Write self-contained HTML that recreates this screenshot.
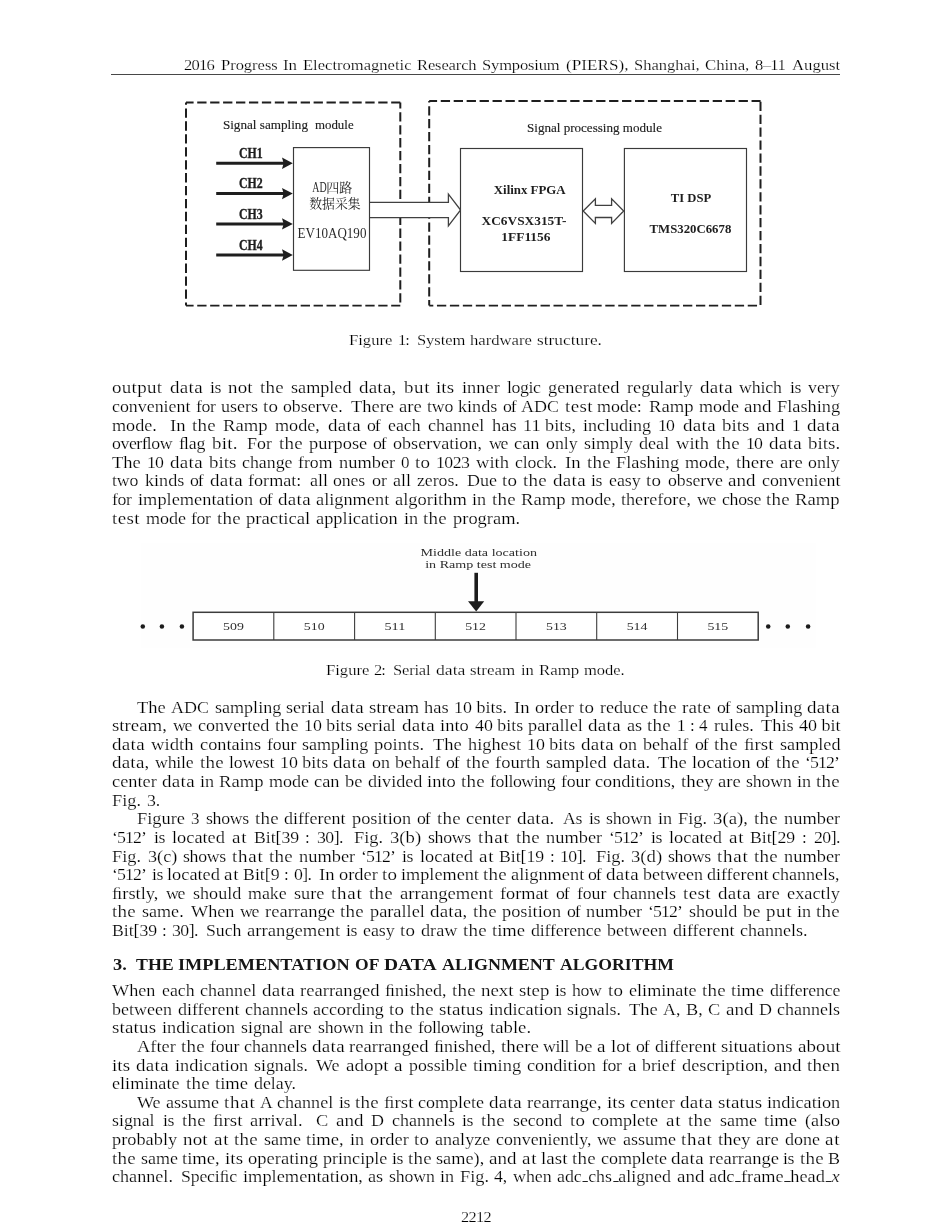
<!DOCTYPE html>
<html><head><meta charset="utf-8"><title>PIERS 2212</title>
<style>
html,body{margin:0;padding:0;background:#fff;}
body{width:952px;height:1232px;position:relative;overflow:hidden;font-family:"Liberation Serif",serif;color:#000;}
#pg{position:absolute;left:0;top:0;width:952px;height:1232px;background:#fff;will-change:transform;filter:grayscale(1);}
.l{position:absolute;left:0;width:952px;height:20px;line-height:20px;font-size:16.8px;white-space:pre;-webkit-text-stroke:0.2px #fff;}
.l span{position:absolute;top:0;transform-origin:0 0;}
.b{-webkit-text-stroke:0;color:#161616;}
.l u{display:inline-block;width:.3em;margin-left:.06em;height:0;border-bottom:1px solid #222;vertical-align:baseline;text-decoration:none;}
svg{position:absolute;left:0;top:0;}
svg text{font-family:"Liberation Serif",serif;}
</style></head><body><div id="pg">
<svg width="952" height="1232" viewBox="0 0 952 1232">
<path d="M186.0,102.6 L400.3,102.6" fill="none" stroke="#1e1e1e" stroke-width="2.0" stroke-dasharray="9.3 3.63" stroke-dashoffset="1.7"/>
<path d="M186.0,305.6 L400.3,305.6" fill="none" stroke="#1e1e1e" stroke-width="1.7" stroke-dasharray="9.3 3.63" stroke-dashoffset="1.7"/>
<path d="M186.0,102.6 L186.0,305.6" fill="none" stroke="#1e1e1e" stroke-width="2.0" stroke-dasharray="9.3 3.63" stroke-dashoffset="7.1"/>
<path d="M400.3,102.6 L400.3,305.6" fill="none" stroke="#1e1e1e" stroke-width="2.0" stroke-dasharray="9.3 3.63" stroke-dashoffset="3.3"/>
<path d="M429.2,100.9 L760.6,100.9" fill="none" stroke="#1e1e1e" stroke-width="2.0" stroke-dasharray="9.3 3.65" stroke-dashoffset="1.4"/>
<path d="M429.2,305.6 L757.4,305.6" fill="none" stroke="#1e1e1e" stroke-width="1.8" stroke-dasharray="9.3 3.65" stroke-dashoffset="5.2"/>
<path d="M429.2,100.9 L429.2,305.6" fill="none" stroke="#1e1e1e" stroke-width="2.0" stroke-dasharray="9.3 3.63" stroke-dashoffset="7.7"/>
<path d="M760.5,100.9 L760.5,306.4" fill="none" stroke="#1e1e1e" stroke-width="2.0" stroke-dasharray="9.3 3.63" stroke-dashoffset="-0.8"/>
<path d="M369.5,202.3 L448.4,202.3 L448.4,194.2 L460.6,210 L448.4,225.8 L448.4,217.6 L369.5,217.6" fill="#fff" stroke="#404040" stroke-width="1.3"/>
<rect x="293.5" y="147.6" width="76.0" height="122.7" fill="#fff" stroke="#3a3a3a" stroke-width="1.15"/>
<rect x="460.5" y="148.5" width="122.0" height="123.0" fill="#fff" stroke="#3a3a3a" stroke-width="1.15"/>
<rect x="624.4" y="148.5" width="122.1" height="123.0" fill="#fff" stroke="#3a3a3a" stroke-width="1.15"/>
<path d="M583.2,211 L595.4,198.9 L595.4,205.4 L611.6,205.4 L611.6,198.9 L623.7,211 L611.6,223.5 L611.6,217.5 L595.4,217.5 L595.4,223.5 Z" fill="#fff" stroke="#404040" stroke-width="1.3"/>
<path d="M216.2,163.2 L284,163.2" stroke="#1e1e1e" stroke-width="3.0" fill="none"/>
<path d="M292.8,163.2 L282.0,157.5 L283.6,163.2 L282.0,168.89999999999998 Z" fill="#1e1e1e"/>
<path d="M216.2,193.6 L284,193.6" stroke="#1e1e1e" stroke-width="3.0" fill="none"/>
<path d="M292.8,193.6 L282.0,187.9 L283.6,193.6 L282.0,199.29999999999998 Z" fill="#1e1e1e"/>
<path d="M216.2,223.9 L284,223.9" stroke="#1e1e1e" stroke-width="3.0" fill="none"/>
<path d="M292.8,223.9 L282.0,218.20000000000002 L283.6,223.9 L282.0,229.6 Z" fill="#1e1e1e"/>
<path d="M216.2,255.0 L284,255.0" stroke="#1e1e1e" stroke-width="3.0" fill="none"/>
<path d="M292.8,255.0 L282.0,249.3 L283.6,255.0 L282.0,260.7 Z" fill="#1e1e1e"/>
<text x="239" y="157.7" font-size="13.9" font-weight="bold" fill="#1e1e1e" stroke="#1e1e1e" stroke-width="0.35" textLength="23.7" lengthAdjust="spacingAndGlyphs">CH1</text>
<text x="239" y="188.3" font-size="13.9" font-weight="bold" fill="#1e1e1e" stroke="#1e1e1e" stroke-width="0.35" textLength="23.7" lengthAdjust="spacingAndGlyphs">CH2</text>
<text x="239" y="218.6" font-size="13.9" font-weight="bold" fill="#1e1e1e" stroke="#1e1e1e" stroke-width="0.35" textLength="23.7" lengthAdjust="spacingAndGlyphs">CH3</text>
<text x="239" y="249.9" font-size="13.9" font-weight="bold" fill="#1e1e1e" stroke="#1e1e1e" stroke-width="0.35" textLength="23.7" lengthAdjust="spacingAndGlyphs">CH4</text>
<text x="222.9" y="129.2" font-size="13.4" fill="#222" stroke="#222" stroke-width="0.15" textLength="85.1" lengthAdjust="spacingAndGlyphs">Signal sampling</text>
<text x="315.0" y="129.2" font-size="13.4" fill="#222" stroke="#222" stroke-width="0.15" textLength="38.6" lengthAdjust="spacingAndGlyphs">module</text>
<text x="527" y="131.5" font-size="13.4" fill="#222" stroke="#222" stroke-width="0.15" textLength="135" lengthAdjust="spacingAndGlyphs">Signal processing module</text>
<text x="312.3" y="191.6" font-size="14.6" fill="#2a2a2a" textLength="14.4" lengthAdjust="spacingAndGlyphs">AD</text>
<text x="326.3" y="191.6" font-size="13" fill="#262626" textLength="26" lengthAdjust="spacingAndGlyphs" style="font-family:'Liberation Serif','Noto Serif CJK SC',serif;">四路</text>
<text x="309.2" y="207.6" font-size="13" fill="#262626" textLength="51.4" lengthAdjust="spacingAndGlyphs" style="font-family:'Liberation Serif','Noto Serif CJK SC',serif;">数据采集</text>
<text x="297.6" y="238.3" font-size="13.7" fill="#2a2a2a" textLength="68.8" lengthAdjust="spacingAndGlyphs">EV10AQ190</text>
<text x="493.8" y="194.4" font-size="13.5" font-weight="bold" fill="#1e1e1e" textLength="71.8" lengthAdjust="spacingAndGlyphs">Xilinx FPGA</text>
<text x="481.6" y="225.4" font-size="13.5" font-weight="bold" fill="#1e1e1e" textLength="84.8" lengthAdjust="spacingAndGlyphs">XC6VSX315T-</text>
<text x="501.3" y="241.0" font-size="13.5" font-weight="bold" fill="#1e1e1e" textLength="49.2" lengthAdjust="spacingAndGlyphs">1FF1156</text>
<text x="670.8" y="201.7" font-size="13.4" font-weight="bold" fill="#1e1e1e" textLength="40.4" lengthAdjust="spacingAndGlyphs">TI DSP</text>
<text x="649.6" y="233.1" font-size="13.4" font-weight="bold" fill="#1e1e1e" textLength="81.7" lengthAdjust="spacingAndGlyphs">TMS320C6678</text>
</svg>
<svg width="952" height="1232" viewBox="0 0 952 1232">
<rect x="141" y="543" width="675" height="105" fill="#fefefe"/>
<text x="420.5" y="556" font-size="9.6" fill="#2e2e2e" textLength="116.5" lengthAdjust="spacingAndGlyphs">Middle data location</text>
<text x="425.2" y="567.7" font-size="9.6" fill="#2e2e2e" textLength="105.9" lengthAdjust="spacingAndGlyphs">in Ramp test mode</text>
<path d="M476.2,572.8 L476.2,603" stroke="#1c1c1c" stroke-width="3.6" fill="none"/>
<path d="M468,601.3 L484.2,601.3 L476.2,611.6 Z" fill="#1c1c1c"/>
<rect x="193.1" y="612.3" width="565.1" height="27.7" fill="#fff" stroke="#3c3c3c" stroke-width="1.5"/>
<path d="M273.8,612.3 L273.8,640.0" stroke="#3c3c3c" stroke-width="1.1"/>
<path d="M354.6,612.3 L354.6,640.0" stroke="#3c3c3c" stroke-width="1.1"/>
<path d="M435.3,612.3 L435.3,640.0" stroke="#3c3c3c" stroke-width="1.1"/>
<path d="M516.0,612.3 L516.0,640.0" stroke="#3c3c3c" stroke-width="1.1"/>
<path d="M596.7,612.3 L596.7,640.0" stroke="#3c3c3c" stroke-width="1.1"/>
<path d="M677.5,612.3 L677.5,640.0" stroke="#3c3c3c" stroke-width="1.1"/>
<text x="223.1" y="629.6" font-size="10.2" fill="#2e2e2e" textLength="20.8" lengthAdjust="spacingAndGlyphs">509</text>
<text x="303.8" y="629.6" font-size="10.2" fill="#2e2e2e" textLength="20.8" lengthAdjust="spacingAndGlyphs">510</text>
<text x="384.5" y="629.6" font-size="10.2" fill="#2e2e2e" textLength="20.8" lengthAdjust="spacingAndGlyphs">511</text>
<text x="465.2" y="629.6" font-size="10.2" fill="#2e2e2e" textLength="20.8" lengthAdjust="spacingAndGlyphs">512</text>
<text x="546.0" y="629.6" font-size="10.2" fill="#2e2e2e" textLength="20.8" lengthAdjust="spacingAndGlyphs">513</text>
<text x="626.7" y="629.6" font-size="10.2" fill="#2e2e2e" textLength="20.8" lengthAdjust="spacingAndGlyphs">514</text>
<text x="707.4" y="629.6" font-size="10.2" fill="#2e2e2e" textLength="20.8" lengthAdjust="spacingAndGlyphs">515</text>
<circle cx="142.8" cy="626.4" r="2.25" fill="#1c1c1c"/>
<circle cx="161.9" cy="626.4" r="2.25" fill="#1c1c1c"/>
<circle cx="181.9" cy="626.4" r="2.25" fill="#1c1c1c"/>
<circle cx="768.2" cy="626.4" r="2.25" fill="#1c1c1c"/>
<circle cx="787.8" cy="626.4" r="2.25" fill="#1c1c1c"/>
<circle cx="808.1" cy="626.4" r="2.25" fill="#1c1c1c"/>
</svg>
<div class="l" style="top:55.03px;font-size:15.6px;"><span style="left:184.2px;letter-spacing:-0.74px;transform:scaleX(1.060)">2016</span><span style="left:220.6px;letter-spacing:-0.03px;transform:scaleX(1.060)">Progress</span><span style="left:283.0px;transform:scaleX(1.082)">In</span><span style="left:302.7px;transform:scaleX(1.062)">Electromagnetic</span><span style="left:416.9px;letter-spacing:-0.13px;transform:scaleX(1.060)">Research</span><span style="left:482.2px;letter-spacing:-0.15px;transform:scaleX(1.060)">Symposium</span><span style="left:565.5px;transform:scaleX(1.101)">(PIERS),</span><span style="left:633.8px;transform:scaleX(1.060)">Shanghai,</span><span style="left:705.2px;transform:scaleX(1.077)">China,</span><span style="left:755.4px;letter-spacing:-0.55px;transform:scaleX(1.060)">8–11</span><span style="left:791.7px;transform:scaleX(1.071)">August</span></div>
<div style="position:absolute;left:111px;top:74px;width:729px;height:1px;background:#484848"></div>
<div class="l" style="top:330.44px;font-size:15.6px;"><span style="left:349.3px;transform:scaleX(1.064)">Figure</span><span style="left:397.7px;letter-spacing:-0.88px;transform:scaleX(1.060)">1:</span><span style="left:416.5px;letter-spacing:-0.08px;transform:scaleX(1.060)">System</span><span style="left:469.9px;transform:scaleX(1.067)">hardware</span><span style="left:536.9px;transform:scaleX(1.111)">structure.</span></div>
<div class="l" style="top:660.24px;font-size:15.6px;"><span style="left:325.8px;transform:scaleX(1.064)">Figure</span><span style="left:374.2px;letter-spacing:-0.88px;transform:scaleX(1.060)">2:</span><span style="left:393.0px;letter-spacing:-0.19px;transform:scaleX(1.060)">Serial</span><span style="left:435.7px;letter-spacing:0.02px;transform:scaleX(1.130)">data</span><span style="left:470.2px;transform:scaleX(1.090)">stream</span><span style="left:520.7px;letter-spacing:-0.07px;transform:scaleX(1.060)">in</span><span style="left:538.6px;transform:scaleX(1.082)">Ramp</span><span style="left:584.0px;letter-spacing:-0.08px;transform:scaleX(1.060)">mode.</span></div>
<div class="l" style="top:378.33px;"><span style="left:112.4px;letter-spacing:0.28px;transform:scaleX(1.130)">output</span><span style="left:169.7px;letter-spacing:0.29px;transform:scaleX(1.130)">data</span><span style="left:209.5px;letter-spacing:-0.42px;transform:scaleX(1.060)">is</span><span style="left:228.2px;letter-spacing:0.14px;transform:scaleX(1.130)">not</span><span style="left:260.0px;letter-spacing:0.19px;transform:scaleX(1.130)">the</span><span style="left:290.9px;transform:scaleX(1.082)">sampled</span><span style="left:358.7px;letter-spacing:0.21px;transform:scaleX(1.130)">data,</span><span style="left:403.6px;letter-spacing:0.56px;transform:scaleX(1.130)">but</span><span style="left:436.4px;letter-spacing:0.05px;transform:scaleX(1.130)">its</span><span style="left:461.7px;transform:scaleX(1.097)">inner</span><span style="left:506.7px;letter-spacing:-0.37px;transform:scaleX(1.060)">logic</span><span style="left:548.0px;transform:scaleX(1.094)">generated</span><span style="left:626.6px;transform:scaleX(1.085)">regularly</span><span style="left:699.6px;letter-spacing:0.29px;transform:scaleX(1.130)">data</span><span style="left:739.4px;letter-spacing:-0.12px;transform:scaleX(1.060)">which</span><span style="left:789.6px;letter-spacing:-0.42px;transform:scaleX(1.060)">is</span><span style="left:808.3px;transform:scaleX(1.062)">very</span></div>
<div class="l" style="top:396.95px;"><span style="left:112.4px;transform:scaleX(1.065)">convenient</span><span style="left:195.9px;letter-spacing:-0.41px;transform:scaleX(1.060)">for</span><span style="left:221.0px;transform:scaleX(1.074)">users</span><span style="left:263.2px;letter-spacing:0.31px;transform:scaleX(1.130)">to</span><span style="left:283.4px;letter-spacing:-0.02px;transform:scaleX(1.060)">observe.</span><span style="left:350.5px;transform:scaleX(1.099)">There</span><span style="left:398.6px;transform:scaleX(1.108)">are</span><span style="left:426.5px;letter-spacing:-0.11px;transform:scaleX(1.060)">two</span><span style="left:458.1px;transform:scaleX(1.080)">kinds</span><span style="left:502.5px;letter-spacing:-1.07px;transform:scaleX(1.060)">of</span><span style="left:521.3px;transform:scaleX(1.073)">ADC</span><span style="left:564.5px;letter-spacing:0.34px;transform:scaleX(1.130)">test</span><span style="left:597.1px;transform:scaleX(1.069)">mode:</span><span style="left:649.3px;transform:scaleX(1.113)">Ramp</span><span style="left:699.0px;transform:scaleX(1.076)">mode</span><span style="left:744.3px;transform:scaleX(1.130)">and</span><span style="left:776.9px;transform:scaleX(1.092)">Flashing</span></div>
<div class="l" style="top:415.57px;"><span style="left:112.4px;transform:scaleX(1.081)">mode.</span><span style="left:169.5px;transform:scaleX(1.114)">In</span><span style="left:192.3px;letter-spacing:0.19px;transform:scaleX(1.130)">the</span><span style="left:223.2px;transform:scaleX(1.113)">Ramp</span><span style="left:275.0px;transform:scaleX(1.081)">mode,</span><span style="left:327.5px;letter-spacing:0.29px;transform:scaleX(1.130)">data</span><span style="left:367.3px;letter-spacing:-1.07px;transform:scaleX(1.060)">of</span><span style="left:388.3px;transform:scaleX(1.060)">each</span><span style="left:428.1px;transform:scaleX(1.077)">channel</span><span style="left:491.5px;transform:scaleX(1.102)">has</span><span style="left:523.4px;transform:scaleX(1.085)">11 bits,</span><span style="left:583.1px;transform:scaleX(1.073)">including</span><span style="left:658.3px;letter-spacing:-0.74px;transform:scaleX(1.060)">10</span><span style="left:682.5px;letter-spacing:0.29px;transform:scaleX(1.130)">data</span><span style="left:722.3px;letter-spacing:0.02px;transform:scaleX(1.130)">bits</span><span style="left:757.1px;transform:scaleX(1.130)">and</span><span style="left:791.7px;transform:scaleX(1.013)">1</span><span style="left:807.4px;letter-spacing:0.29px;transform:scaleX(1.130)">data</span></div>
<div class="l" style="top:434.19px;"><span style="left:112.4px;letter-spacing:-0.43px;transform:scaleX(1.060)">overﬂow</span><span style="left:179.3px;letter-spacing:-0.11px;transform:scaleX(1.060)">ﬂag</span><span style="left:212.1px;letter-spacing:0.21px;transform:scaleX(1.130)">bit.</span><span style="left:247.3px;transform:scaleX(1.066)">For</span><span style="left:278.5px;letter-spacing:0.19px;transform:scaleX(1.130)">the</span><span style="left:308.5px;transform:scaleX(1.096)">purpose</span><span style="left:373.1px;letter-spacing:-1.07px;transform:scaleX(1.060)">of</span><span style="left:393.2px;transform:scaleX(1.078)">observation,</span><span style="left:488.7px;letter-spacing:-1.31px;transform:scaleX(1.060)">we</span><span style="left:514.4px;transform:scaleX(1.095)">can</span><span style="left:546.3px;transform:scaleX(1.060)">only</span><span style="left:584.3px;transform:scaleX(1.066)">simply</span><span style="left:639.4px;transform:scaleX(1.081)">deal</span><span style="left:676.0px;transform:scaleX(1.108)">with</span><span style="left:715.5px;letter-spacing:0.19px;transform:scaleX(1.130)">the</span><span style="left:745.5px;letter-spacing:-0.74px;transform:scaleX(1.060)">10</span><span style="left:768.8px;letter-spacing:0.29px;transform:scaleX(1.130)">data</span><span style="left:807.8px;letter-spacing:0.01px;transform:scaleX(1.130)">bits.</span></div>
<div class="l" style="top:452.81px;"><span style="left:112.4px;transform:scaleX(1.104)">The</span><span style="left:147.1px;letter-spacing:-0.74px;transform:scaleX(1.060)">10</span><span style="left:170.0px;letter-spacing:0.29px;transform:scaleX(1.130)">data</span><span style="left:208.5px;letter-spacing:0.02px;transform:scaleX(1.130)">bits</span><span style="left:241.8px;transform:scaleX(1.063)">change</span><span style="left:298.2px;letter-spacing:-0.02px;transform:scaleX(1.060)">from</span><span style="left:338.6px;transform:scaleX(1.097)">number</span><span style="left:400.8px;transform:scaleX(1.013)">0</span><span style="left:415.2px;letter-spacing:0.31px;transform:scaleX(1.130)">to</span><span style="left:436.2px;letter-spacing:-0.50px;transform:scaleX(1.060)">1023</span><span style="left:476.1px;transform:scaleX(1.108)">with</span><span style="left:515.0px;letter-spacing:-0.18px;transform:scaleX(1.060)">clock.</span><span style="left:565.2px;transform:scaleX(1.114)">In</span><span style="left:586.7px;letter-spacing:0.19px;transform:scaleX(1.130)">the</span><span style="left:616.2px;transform:scaleX(1.092)">Flashing</span><span style="left:685.2px;transform:scaleX(1.081)">mode,</span><span style="left:736.0px;transform:scaleX(1.128)">there</span><span style="left:779.8px;transform:scaleX(1.108)">are</span><span style="left:808.4px;transform:scaleX(1.060)">only</span></div>
<div class="l" style="top:471.43px;"><span style="left:112.4px;letter-spacing:-0.11px;transform:scaleX(1.060)">two</span><span style="left:144.8px;transform:scaleX(1.080)">kinds</span><span style="left:190.0px;letter-spacing:-1.07px;transform:scaleX(1.060)">of</span><span style="left:209.6px;letter-spacing:0.29px;transform:scaleX(1.130)">data</span><span style="left:248.1px;transform:scaleX(1.081)">format:</span><span style="left:309.5px;transform:scaleX(1.069)">all</span><span style="left:333.4px;letter-spacing:-0.13px;transform:scaleX(1.060)">ones</span><span style="left:371.5px;transform:scaleX(1.084)">or</span><span style="left:392.6px;transform:scaleX(1.069)">all</span><span style="left:416.5px;letter-spacing:-0.05px;transform:scaleX(1.060)">zeros.</span><span style="left:466.5px;transform:scaleX(1.072)">Due</span><span style="left:502.4px;letter-spacing:0.31px;transform:scaleX(1.130)">to</span><span style="left:523.4px;letter-spacing:0.19px;transform:scaleX(1.130)">the</span><span style="left:552.9px;letter-spacing:0.29px;transform:scaleX(1.130)">data</span><span style="left:591.4px;letter-spacing:-0.42px;transform:scaleX(1.060)">is</span><span style="left:608.8px;transform:scaleX(1.064)">easy</span><span style="left:646.4px;letter-spacing:0.31px;transform:scaleX(1.130)">to</span><span style="left:667.5px;letter-spacing:-0.06px;transform:scaleX(1.060)">observe</span><span style="left:728.3px;transform:scaleX(1.130)">and</span><span style="left:761.6px;transform:scaleX(1.065)">convenient</span></div>
<div class="l" style="top:490.05px;"><span style="left:112.4px;letter-spacing:-0.41px;transform:scaleX(1.060)">for</span><span style="left:137.8px;transform:scaleX(1.094)">implementation</span><span style="left:258.5px;letter-spacing:-1.07px;transform:scaleX(1.060)">of</span><span style="left:277.7px;letter-spacing:0.29px;transform:scaleX(1.130)">data</span><span style="left:315.8px;transform:scaleX(1.091)">alignment</span><span style="left:394.5px;transform:scaleX(1.101)">algorithm</span><span style="left:471.8px;transform:scaleX(1.085)">in</span><span style="left:491.5px;letter-spacing:0.19px;transform:scaleX(1.130)">the</span><span style="left:520.6px;transform:scaleX(1.113)">Ramp</span><span style="left:570.7px;transform:scaleX(1.081)">mode,</span><span style="left:621.1px;transform:scaleX(1.081)">therefore,</span><span style="left:696.6px;letter-spacing:-1.31px;transform:scaleX(1.060)">we</span><span style="left:721.5px;letter-spacing:-0.29px;transform:scaleX(1.060)">chose</span><span style="left:766.3px;letter-spacing:0.19px;transform:scaleX(1.130)">the</span><span style="left:795.4px;transform:scaleX(1.113)">Ramp</span></div>
<div class="l" style="top:508.67px;"><span style="left:112.4px;letter-spacing:0.34px;transform:scaleX(1.130)">test</span><span style="left:145.6px;transform:scaleX(1.076)">mode</span><span style="left:191.4px;letter-spacing:-0.41px;transform:scaleX(1.060)">for</span><span style="left:216.9px;letter-spacing:0.19px;transform:scaleX(1.130)">the</span><span style="left:246.2px;transform:scaleX(1.113)">practical</span><span style="left:316.1px;transform:scaleX(1.096)">application</span><span style="left:403.5px;transform:scaleX(1.085)">in</span><span style="left:423.3px;letter-spacing:0.19px;transform:scaleX(1.130)">the</span><span style="left:452.6px;transform:scaleX(1.100)">program.</span></div>
<div class="l" style="top:697.63px;"><span style="left:137.0px;transform:scaleX(1.104)">The</span><span style="left:171.2px;transform:scaleX(1.073)">ADC</span><span style="left:214.7px;transform:scaleX(1.076)">sampling</span><span style="left:286.3px;transform:scaleX(1.069)">serial</span><span style="left:330.6px;letter-spacing:0.29px;transform:scaleX(1.130)">data</span><span style="left:368.6px;transform:scaleX(1.122)">stream</span><span style="left:424.3px;transform:scaleX(1.102)">has</span><span style="left:454.3px;transform:scaleX(1.071)">10 bits.</span><span style="left:513.9px;transform:scaleX(1.114)">In</span><span style="left:534.9px;transform:scaleX(1.096)">order</span><span style="left:579.1px;letter-spacing:0.31px;transform:scaleX(1.130)">to</span><span style="left:599.7px;transform:scaleX(1.078)">reduce</span><span style="left:653.3px;letter-spacing:0.19px;transform:scaleX(1.130)">the</span><span style="left:682.4px;letter-spacing:0.13px;transform:scaleX(1.130)">rate</span><span style="left:716.7px;letter-spacing:-1.07px;transform:scaleX(1.060)">of</span><span style="left:735.8px;transform:scaleX(1.076)">sampling</span><span style="left:807.4px;letter-spacing:0.29px;transform:scaleX(1.130)">data</span></div>
<div class="l" style="top:716.25px;"><span style="left:112.4px;transform:scaleX(1.122)">stream,</span><span style="left:173.0px;letter-spacing:-1.31px;transform:scaleX(1.060)">we</span><span style="left:198.1px;transform:scaleX(1.078)">converted</span><span style="left:275.1px;letter-spacing:0.19px;transform:scaleX(1.130)">the</span><span style="left:304.4px;transform:scaleX(1.066)">10 bits</span><span style="left:357.4px;transform:scaleX(1.069)">serial</span><span style="left:401.9px;letter-spacing:0.29px;transform:scaleX(1.130)">data</span><span style="left:440.2px;transform:scaleX(1.103)">into</span><span style="left:474.7px;transform:scaleX(1.066)">40 bits</span><span style="left:527.7px;transform:scaleX(1.090)">parallel</span><span style="left:588.2px;letter-spacing:0.29px;transform:scaleX(1.130)">data</span><span style="left:626.5px;transform:scaleX(1.087)">as</span><span style="left:647.4px;letter-spacing:0.19px;transform:scaleX(1.130)">the</span><span style="left:676.7px;transform:scaleX(1.013)">1</span><span style="left:689.9px;transform:scaleX(1.011)">:</span><span style="left:699.4px;transform:scaleX(1.013)">4</span><span style="left:713.6px;transform:scaleX(1.081)">rules.</span><span style="left:761.0px;transform:scaleX(1.095)">This</span><span style="left:799.4px;transform:scaleX(1.073)">40 bit</span></div>
<div class="l" style="top:734.87px;"><span style="left:112.4px;letter-spacing:0.29px;transform:scaleX(1.130)">data</span><span style="left:151.0px;transform:scaleX(1.112)">width</span><span style="left:199.6px;transform:scaleX(1.091)">contains</span><span style="left:266.7px;letter-spacing:-0.10px;transform:scaleX(1.060)">four</span><span style="left:302.1px;transform:scaleX(1.076)">sampling</span><span style="left:374.3px;transform:scaleX(1.109)">points.</span><span style="left:433.2px;transform:scaleX(1.104)">The</span><span style="left:468.1px;transform:scaleX(1.093)">highest</span><span style="left:527.1px;transform:scaleX(1.066)">10 bits</span><span style="left:580.5px;letter-spacing:0.29px;transform:scaleX(1.130)">data</span><span style="left:619.2px;transform:scaleX(1.069)">on</span><span style="left:643.2px;transform:scaleX(1.081)">behalf</span><span style="left:694.6px;letter-spacing:-1.07px;transform:scaleX(1.060)">of</span><span style="left:714.3px;letter-spacing:0.19px;transform:scaleX(1.130)">the</span><span style="left:744.0px;transform:scaleX(1.126)">ﬁrst</span><span style="left:779.5px;transform:scaleX(1.082)">sampled</span></div>
<div class="l" style="top:753.49px;"><span style="left:112.4px;letter-spacing:0.21px;transform:scaleX(1.130)">data,</span><span style="left:155.4px;letter-spacing:-0.19px;transform:scaleX(1.060)">while</span><span style="left:199.9px;letter-spacing:0.19px;transform:scaleX(1.130)">the</span><span style="left:229.2px;letter-spacing:-0.19px;transform:scaleX(1.060)">lowest</span><span style="left:280.4px;transform:scaleX(1.066)">10 bits</span><span style="left:333.4px;letter-spacing:0.29px;transform:scaleX(1.130)">data</span><span style="left:371.7px;transform:scaleX(1.069)">on</span><span style="left:395.4px;transform:scaleX(1.081)">behalf</span><span style="left:446.4px;letter-spacing:-1.07px;transform:scaleX(1.060)">of</span><span style="left:465.8px;letter-spacing:0.19px;transform:scaleX(1.130)">the</span><span style="left:495.1px;transform:scaleX(1.106)">fourth</span><span style="left:546.2px;transform:scaleX(1.082)">sampled</span><span style="left:612.5px;letter-spacing:0.21px;transform:scaleX(1.130)">data.</span><span style="left:657.5px;transform:scaleX(1.104)">The</span><span style="left:692.0px;transform:scaleX(1.083)">location</span><span style="left:756.3px;letter-spacing:-1.07px;transform:scaleX(1.060)">of</span><span style="left:775.7px;letter-spacing:0.19px;transform:scaleX(1.130)">the</span><span style="left:805.1px;letter-spacing:-0.85px;transform:scaleX(1.060)">‘512’</span></div>
<div class="l" style="top:772.11px;"><span style="left:112.4px;transform:scaleX(1.095)">center</span><span style="left:162.4px;letter-spacing:0.29px;transform:scaleX(1.130)">data</span><span style="left:200.1px;transform:scaleX(1.085)">in</span><span style="left:219.4px;transform:scaleX(1.113)">Ramp</span><span style="left:269.2px;transform:scaleX(1.076)">mode</span><span style="left:314.4px;transform:scaleX(1.095)">can</span><span style="left:345.1px;transform:scaleX(1.103)">be</span><span style="left:367.6px;transform:scaleX(1.079)">divided</span><span style="left:427.1px;transform:scaleX(1.103)">into</span><span style="left:461.0px;letter-spacing:0.19px;transform:scaleX(1.130)">the</span><span style="left:489.7px;letter-spacing:-0.42px;transform:scaleX(1.060)">following</span><span style="left:560.5px;letter-spacing:-0.10px;transform:scaleX(1.060)">four</span><span style="left:594.9px;transform:scaleX(1.084)">conditions,</span><span style="left:680.5px;transform:scaleX(1.127)">they</span><span style="left:718.2px;transform:scaleX(1.108)">are</span><span style="left:746.1px;letter-spacing:-0.13px;transform:scaleX(1.060)">shown</span><span style="left:797.1px;transform:scaleX(1.085)">in</span><span style="left:816.4px;letter-spacing:0.19px;transform:scaleX(1.130)">the</span></div>
<div class="l" style="top:790.73px;"><span style="left:112.4px;transform:scaleX(1.092)">Fig.</span><span style="left:147.1px;letter-spacing:-0.12px;transform:scaleX(1.060)">3.</span></div>
<div class="l" style="top:809.33px;"><span style="left:137.0px;transform:scaleX(1.095)">Figure</span><span style="left:191.0px;transform:scaleX(1.013)">3</span><span style="left:205.5px;letter-spacing:-0.31px;transform:scaleX(1.060)">shows</span><span style="left:254.7px;letter-spacing:0.19px;transform:scaleX(1.130)">the</span><span style="left:284.3px;transform:scaleX(1.069)">different</span><span style="left:351.7px;transform:scaleX(1.093)">position</span><span style="left:416.9px;letter-spacing:-1.07px;transform:scaleX(1.060)">of</span><span style="left:436.6px;letter-spacing:0.19px;transform:scaleX(1.130)">the</span><span style="left:466.2px;transform:scaleX(1.095)">center</span><span style="left:517.1px;letter-spacing:0.21px;transform:scaleX(1.130)">data.</span><span style="left:563.0px;letter-spacing:-0.30px;transform:scaleX(1.060)">As</span><span style="left:588.5px;letter-spacing:-0.42px;transform:scaleX(1.060)">is</span><span style="left:605.9px;letter-spacing:-0.13px;transform:scaleX(1.060)">shown</span><span style="left:657.9px;transform:scaleX(1.085)">in</span><span style="left:678.0px;transform:scaleX(1.092)">Fig.</span><span style="left:713.1px;transform:scaleX(1.119)">3(a),</span><span style="left:754.1px;letter-spacing:0.19px;transform:scaleX(1.130)">the</span><span style="left:783.8px;transform:scaleX(1.097)">number</span></div>
<div class="l" style="top:827.95px;"><span style="left:112.4px;letter-spacing:-0.85px;transform:scaleX(1.060)">‘512’</span><span style="left:154.2px;letter-spacing:-0.42px;transform:scaleX(1.060)">is</span><span style="left:172.4px;transform:scaleX(1.092)">located</span><span style="left:232.2px;letter-spacing:0.83px;transform:scaleX(1.130)">at</span><span style="left:253.6px;letter-spacing:-0.07px;transform:scaleX(1.060)">Bit[39</span><span style="left:305.4px;transform:scaleX(1.011)">:</span><span style="left:316.8px;letter-spacing:-0.54px;transform:scaleX(1.060)">30].</span><span style="left:354.3px;transform:scaleX(1.092)">Fig.</span><span style="left:390.1px;transform:scaleX(1.114)">3(b)</span><span style="left:428.1px;letter-spacing:-0.31px;transform:scaleX(1.060)">shows</span><span style="left:478.1px;letter-spacing:0.66px;transform:scaleX(1.130)">that</span><span style="left:515.7px;letter-spacing:0.19px;transform:scaleX(1.130)">the</span><span style="left:546.1px;transform:scaleX(1.097)">number</span><span style="left:609.2px;letter-spacing:-0.85px;transform:scaleX(1.060)">‘512’</span><span style="left:651.0px;letter-spacing:-0.42px;transform:scaleX(1.060)">is</span><span style="left:669.2px;transform:scaleX(1.092)">located</span><span style="left:728.9px;letter-spacing:0.83px;transform:scaleX(1.130)">at</span><span style="left:750.4px;letter-spacing:-0.07px;transform:scaleX(1.060)">Bit[29</span><span style="left:802.2px;transform:scaleX(1.011)">:</span><span style="left:813.6px;letter-spacing:-0.54px;transform:scaleX(1.060)">20].</span></div>
<div class="l" style="top:846.57px;"><span style="left:112.4px;transform:scaleX(1.092)">Fig.</span><span style="left:147.6px;transform:scaleX(1.084)">3(c)</span><span style="left:182.9px;letter-spacing:-0.31px;transform:scaleX(1.060)">shows</span><span style="left:232.2px;letter-spacing:0.66px;transform:scaleX(1.130)">that</span><span style="left:269.0px;letter-spacing:0.19px;transform:scaleX(1.130)">the</span><span style="left:298.7px;transform:scaleX(1.097)">number</span><span style="left:361.1px;letter-spacing:-0.85px;transform:scaleX(1.060)">‘512’</span><span style="left:402.2px;letter-spacing:-0.42px;transform:scaleX(1.060)">is</span><span style="left:419.7px;transform:scaleX(1.092)">located</span><span style="left:478.7px;letter-spacing:0.83px;transform:scaleX(1.130)">at</span><span style="left:499.4px;letter-spacing:-0.07px;transform:scaleX(1.060)">Bit[19</span><span style="left:550.0px;transform:scaleX(1.011)">:</span><span style="left:560.2px;letter-spacing:-0.54px;transform:scaleX(1.060)">10].</span><span style="left:595.5px;transform:scaleX(1.092)">Fig.</span><span style="left:630.7px;transform:scaleX(1.114)">3(d)</span><span style="left:668.0px;letter-spacing:-0.31px;transform:scaleX(1.060)">shows</span><span style="left:717.2px;letter-spacing:0.66px;transform:scaleX(1.130)">that</span><span style="left:754.0px;letter-spacing:0.19px;transform:scaleX(1.130)">the</span><span style="left:783.8px;transform:scaleX(1.097)">number</span></div>
<div class="l" style="top:865.19px;"><span style="left:112.4px;letter-spacing:-0.85px;transform:scaleX(1.060)">‘512’</span><span style="left:151.5px;letter-spacing:-0.42px;transform:scaleX(1.060)">is</span><span style="left:167.1px;transform:scaleX(1.092)">located</span><span style="left:224.2px;letter-spacing:0.83px;transform:scaleX(1.130)">at</span><span style="left:243.0px;transform:scaleX(1.061)">Bit[9</span><span style="left:284.3px;transform:scaleX(1.011)">:</span><span style="left:293.7px;letter-spacing:-0.63px;transform:scaleX(1.060)">0].</span><span style="left:318.7px;transform:scaleX(1.114)">In</span><span style="left:338.5px;transform:scaleX(1.096)">order</span><span style="left:381.5px;letter-spacing:0.31px;transform:scaleX(1.130)">to</span><span style="left:400.8px;transform:scaleX(1.085)">implement</span><span style="left:482.9px;letter-spacing:0.19px;transform:scaleX(1.130)">the</span><span style="left:510.6px;transform:scaleX(1.091)">alignment</span><span style="left:588.0px;letter-spacing:-1.07px;transform:scaleX(1.060)">of</span><span style="left:605.9px;letter-spacing:0.29px;transform:scaleX(1.130)">data</span><span style="left:642.6px;transform:scaleX(1.072)">between</span><span style="left:706.8px;transform:scaleX(1.069)">different</span><span style="left:772.4px;transform:scaleX(1.075)">channels,</span></div>
<div class="l" style="top:883.81px;"><span style="left:112.4px;transform:scaleX(1.098)">ﬁrstly,</span><span style="left:166.3px;letter-spacing:-1.31px;transform:scaleX(1.060)">we</span><span style="left:192.7px;transform:scaleX(1.078)">should</span><span style="left:248.1px;transform:scaleX(1.065)">make</span><span style="left:293.9px;transform:scaleX(1.086)">sure</span><span style="left:331.4px;letter-spacing:0.66px;transform:scaleX(1.130)">that</span><span style="left:369.1px;letter-spacing:0.19px;transform:scaleX(1.130)">the</span><span style="left:399.8px;transform:scaleX(1.110)">arrangement</span><span style="left:500.1px;transform:scaleX(1.088)">format</span><span style="left:555.8px;letter-spacing:-1.07px;transform:scaleX(1.060)">of</span><span style="left:576.6px;letter-spacing:-0.10px;transform:scaleX(1.060)">four</span><span style="left:613.1px;transform:scaleX(1.071)">channels</span><span style="left:683.0px;letter-spacing:0.34px;transform:scaleX(1.130)">test</span><span style="left:717.6px;letter-spacing:0.29px;transform:scaleX(1.130)">data</span><span style="left:757.3px;transform:scaleX(1.108)">are</span><span style="left:787.1px;transform:scaleX(1.092)">exactly</span></div>
<div class="l" style="top:902.43px;"><span style="left:112.4px;letter-spacing:0.19px;transform:scaleX(1.130)">the</span><span style="left:141.6px;transform:scaleX(1.077)">same.</span><span style="left:190.8px;transform:scaleX(1.084)">When</span><span style="left:239.8px;letter-spacing:-1.31px;transform:scaleX(1.060)">we</span><span style="left:264.8px;transform:scaleX(1.106)">rearrange</span><span style="left:340.4px;letter-spacing:0.19px;transform:scaleX(1.130)">the</span><span style="left:369.6px;transform:scaleX(1.090)">parallel</span><span style="left:430.1px;letter-spacing:0.21px;transform:scaleX(1.130)">data,</span><span style="left:473.0px;letter-spacing:0.19px;transform:scaleX(1.130)">the</span><span style="left:502.2px;transform:scaleX(1.093)">position</span><span style="left:566.9px;letter-spacing:-1.07px;transform:scaleX(1.060)">of</span><span style="left:586.2px;transform:scaleX(1.097)">number</span><span style="left:648.0px;letter-spacing:-0.85px;transform:scaleX(1.060)">‘512’</span><span style="left:688.6px;transform:scaleX(1.078)">should</span><span style="left:742.5px;transform:scaleX(1.103)">be</span><span style="left:765.5px;letter-spacing:0.56px;transform:scaleX(1.130)">put</span><span style="left:796.6px;transform:scaleX(1.085)">in</span><span style="left:816.4px;letter-spacing:0.19px;transform:scaleX(1.130)">the</span></div>
<div class="l" style="top:921.05px;"><span style="left:112.4px;letter-spacing:-0.07px;transform:scaleX(1.060)">Bit[39</span><span style="left:162.2px;transform:scaleX(1.011)">:</span><span style="left:171.7px;letter-spacing:-0.54px;transform:scaleX(1.060)">30].</span><span style="left:205.7px;letter-spacing:-0.05px;transform:scaleX(1.060)">Such</span><span style="left:246.7px;transform:scaleX(1.110)">arrangement</span><span style="left:345.5px;letter-spacing:-0.42px;transform:scaleX(1.060)">is</span><span style="left:362.6px;transform:scaleX(1.064)">easy</span><span style="left:400.0px;letter-spacing:0.31px;transform:scaleX(1.130)">to</span><span style="left:420.8px;transform:scaleX(1.085)">draw</span><span style="left:462.9px;letter-spacing:0.19px;transform:scaleX(1.130)">the</span><span style="left:492.2px;transform:scaleX(1.108)">time</span><span style="left:530.9px;letter-spacing:-0.14px;transform:scaleX(1.060)">difference</span><span style="left:607.0px;transform:scaleX(1.072)">between</span><span style="left:672.6px;transform:scaleX(1.069)">different</span><span style="left:739.7px;transform:scaleX(1.075)">channels.</span></div>
<div class="l b" style="top:955.00px;font-size:16px;font-weight:bold;"><span style="left:112.7px;transform:scaleX(1.144)">3.</span></div>
<div class="l b" style="top:955.00px;font-size:16px;font-weight:bold;"><span style="left:135.6px;transform:scaleX(1.115)">THE</span><span style="left:178.3px;transform:scaleX(1.140)">IMPLEMENTATION</span><span style="left:354.9px;transform:scaleX(1.097)">OF</span><span style="left:384.2px;letter-spacing:0.02px;transform:scaleX(1.220)">DATA</span><span style="left:441.7px;transform:scaleX(1.123)">ALIGNMENT</span><span style="left:559.5px;transform:scaleX(1.104)">ALGORITHM</span></div>
<div class="l" style="top:981.03px;"><span style="left:112.4px;transform:scaleX(1.084)">When</span><span style="left:161.5px;transform:scaleX(1.060)">each</span><span style="left:199.7px;transform:scaleX(1.077)">channel</span><span style="left:261.5px;letter-spacing:0.29px;transform:scaleX(1.130)">data</span><span style="left:299.7px;transform:scaleX(1.108)">rearranged</span><span style="left:384.8px;transform:scaleX(1.072)">ﬁnished,</span><span style="left:451.9px;letter-spacing:0.19px;transform:scaleX(1.130)">the</span><span style="left:481.2px;transform:scaleX(1.127)">next</span><span style="left:519.4px;transform:scaleX(1.121)">step</span><span style="left:555.3px;letter-spacing:-0.42px;transform:scaleX(1.060)">is</span><span style="left:572.4px;letter-spacing:-0.42px;transform:scaleX(1.060)">how</span><span style="left:607.8px;letter-spacing:0.31px;transform:scaleX(1.130)">to</span><span style="left:628.5px;transform:scaleX(1.081)">eliminate</span><span style="left:701.7px;letter-spacing:0.19px;transform:scaleX(1.130)">the</span><span style="left:730.9px;transform:scaleX(1.108)">time</span><span style="left:769.6px;letter-spacing:-0.14px;transform:scaleX(1.060)">difference</span></div>
<div class="l" style="top:999.65px;"><span style="left:112.4px;transform:scaleX(1.072)">between</span><span style="left:177.8px;transform:scaleX(1.069)">different</span><span style="left:244.7px;transform:scaleX(1.071)">channels</span><span style="left:313.0px;transform:scaleX(1.071)">according</span><span style="left:389.4px;letter-spacing:0.31px;transform:scaleX(1.130)">to</span><span style="left:409.9px;letter-spacing:0.19px;transform:scaleX(1.130)">the</span><span style="left:439.0px;letter-spacing:0.16px;transform:scaleX(1.130)">status</span><span style="left:488.5px;transform:scaleX(1.091)">indication</span><span style="left:567.2px;transform:scaleX(1.063)">signals.</span><span style="left:628.7px;transform:scaleX(1.104)">The</span><span style="left:662.9px;transform:scaleX(1.070)">A,</span><span style="left:685.9px;transform:scaleX(1.089)">B,</span><span style="left:708.1px;transform:scaleX(1.096)">C</span><span style="left:725.8px;transform:scaleX(1.130)">and</span><span style="left:758.7px;transform:scaleX(1.071)">D</span><span style="left:777.1px;transform:scaleX(1.071)">channels</span></div>
<div class="l" style="top:1018.27px;"><span style="left:112.4px;letter-spacing:0.16px;transform:scaleX(1.130)">status</span><span style="left:162.2px;transform:scaleX(1.091)">indication</span><span style="left:241.0px;transform:scaleX(1.062)">signal</span><span style="left:289.3px;transform:scaleX(1.108)">are</span><span style="left:317.7px;letter-spacing:-0.13px;transform:scaleX(1.060)">shown</span><span style="left:369.2px;transform:scaleX(1.085)">in</span><span style="left:389.1px;letter-spacing:0.19px;transform:scaleX(1.130)">the</span><span style="left:418.4px;letter-spacing:-0.42px;transform:scaleX(1.060)">following</span><span style="left:489.7px;transform:scaleX(1.116)">table.</span></div>
<div class="l" style="top:1036.93px;"><span style="left:137.0px;transform:scaleX(1.095)">After</span><span style="left:180.8px;letter-spacing:0.19px;transform:scaleX(1.130)">the</span><span style="left:209.5px;letter-spacing:-0.10px;transform:scaleX(1.060)">four</span><span style="left:243.8px;transform:scaleX(1.071)">channels</span><span style="left:311.7px;letter-spacing:0.29px;transform:scaleX(1.130)">data</span><span style="left:349.4px;transform:scaleX(1.108)">rearranged</span><span style="left:433.9px;transform:scaleX(1.072)">ﬁnished,</span><span style="left:500.5px;transform:scaleX(1.128)">there</span><span style="left:543.4px;letter-spacing:-0.39px;transform:scaleX(1.060)">will</span><span style="left:574.9px;transform:scaleX(1.103)">be</span><span style="left:597.4px;transform:scaleX(1.140)">a</span><span style="left:610.9px;transform:scaleX(1.119)">lot</span><span style="left:635.8px;letter-spacing:-1.07px;transform:scaleX(1.060)">of</span><span style="left:654.5px;transform:scaleX(1.069)">different</span><span style="left:721.0px;transform:scaleX(1.111)">situations</span><span style="left:797.5px;letter-spacing:0.08px;transform:scaleX(1.130)">about</span></div>
<div class="l" style="top:1055.55px;"><span style="left:112.4px;letter-spacing:0.05px;transform:scaleX(1.130)">its</span><span style="left:136.4px;letter-spacing:0.29px;transform:scaleX(1.130)">data</span><span style="left:174.9px;transform:scaleX(1.091)">indication</span><span style="left:254.0px;transform:scaleX(1.063)">signals.</span><span style="left:316.3px;transform:scaleX(1.076)">We</span><span style="left:345.9px;letter-spacing:0.08px;transform:scaleX(1.130)">adopt</span><span style="left:394.3px;transform:scaleX(1.140)">a</span><span style="left:408.7px;letter-spacing:-0.01px;transform:scaleX(1.060)">possible</span><span style="left:472.9px;transform:scaleX(1.099)">timing</span><span style="left:527.0px;transform:scaleX(1.088)">condition</span><span style="left:601.8px;letter-spacing:-0.41px;transform:scaleX(1.060)">for</span><span style="left:627.6px;transform:scaleX(1.140)">a</span><span style="left:642.1px;transform:scaleX(1.060)">brief</span><span style="left:681.6px;transform:scaleX(1.093)">description,</span><span style="left:773.6px;transform:scaleX(1.130)">and</span><span style="left:806.9px;letter-spacing:0.12px;transform:scaleX(1.130)">then</span></div>
<div class="l" style="top:1074.17px;"><span style="left:112.4px;transform:scaleX(1.081)">eliminate</span><span style="left:185.6px;letter-spacing:0.19px;transform:scaleX(1.130)">the</span><span style="left:214.9px;transform:scaleX(1.108)">time</span><span style="left:253.6px;transform:scaleX(1.065)">delay.</span></div>
<div class="l" style="top:1092.73px;"><span style="left:137.0px;transform:scaleX(1.076)">We</span><span style="left:165.7px;transform:scaleX(1.074)">assume</span><span style="left:223.8px;letter-spacing:0.66px;transform:scaleX(1.130)">that</span><span style="left:259.5px;transform:scaleX(1.052)">A</span><span style="left:277.4px;transform:scaleX(1.077)">channel</span><span style="left:338.6px;letter-spacing:-0.42px;transform:scaleX(1.060)">is</span><span style="left:355.1px;letter-spacing:0.19px;transform:scaleX(1.130)">the</span><span style="left:383.7px;transform:scaleX(1.126)">ﬁrst</span><span style="left:418.2px;transform:scaleX(1.075)">complete</span><span style="left:489.4px;letter-spacing:0.29px;transform:scaleX(1.130)">data</span><span style="left:527.0px;transform:scaleX(1.107)">rearrange,</span><span style="left:607.0px;letter-spacing:0.05px;transform:scaleX(1.130)">its</span><span style="left:630.0px;transform:scaleX(1.095)">center</span><span style="left:680.0px;letter-spacing:0.29px;transform:scaleX(1.130)">data</span><span style="left:717.6px;letter-spacing:0.16px;transform:scaleX(1.130)">status</span><span style="left:766.8px;transform:scaleX(1.091)">indication</span></div>
<div class="l" style="top:1111.35px;"><span style="left:112.4px;transform:scaleX(1.062)">signal</span><span style="left:162.7px;letter-spacing:-0.42px;transform:scaleX(1.060)">is</span><span style="left:181.7px;letter-spacing:0.19px;transform:scaleX(1.130)">the</span><span style="left:213.0px;transform:scaleX(1.126)">ﬁrst</span><span style="left:250.1px;transform:scaleX(1.094)">arrival.</span><span style="left:316.1px;transform:scaleX(1.096)">C</span><span style="left:336.1px;transform:scaleX(1.130)">and</span><span style="left:371.1px;transform:scaleX(1.071)">D</span><span style="left:391.8px;transform:scaleX(1.071)">channels</span><span style="left:462.3px;letter-spacing:-0.42px;transform:scaleX(1.060)">is</span><span style="left:481.4px;letter-spacing:0.19px;transform:scaleX(1.130)">the</span><span style="left:512.7px;letter-spacing:-0.04px;transform:scaleX(1.060)">second</span><span style="left:569.5px;letter-spacing:0.31px;transform:scaleX(1.130)">to</span><span style="left:592.3px;transform:scaleX(1.075)">complete</span><span style="left:666.1px;letter-spacing:0.83px;transform:scaleX(1.130)">at</span><span style="left:688.4px;letter-spacing:0.19px;transform:scaleX(1.130)">the</span><span style="left:719.7px;transform:scaleX(1.071)">same</span><span style="left:764.2px;transform:scaleX(1.108)">time</span><span style="left:805.0px;transform:scaleX(1.074)">(also</span></div>
<div class="l" style="top:1129.97px;"><span style="left:112.4px;transform:scaleX(1.093)">probably</span><span style="left:183.4px;letter-spacing:0.14px;transform:scaleX(1.130)">not</span><span style="left:213.7px;letter-spacing:0.83px;transform:scaleX(1.130)">at</span><span style="left:234.1px;letter-spacing:0.19px;transform:scaleX(1.130)">the</span><span style="left:263.5px;transform:scaleX(1.071)">same</span><span style="left:306.2px;transform:scaleX(1.110)">time,</span><span style="left:349.8px;transform:scaleX(1.085)">in</span><span style="left:369.7px;transform:scaleX(1.096)">order</span><span style="left:414.3px;letter-spacing:0.31px;transform:scaleX(1.130)">to</span><span style="left:435.2px;transform:scaleX(1.078)">analyze</span><span style="left:496.2px;transform:scaleX(1.062)">conveniently,</span><span style="left:597.4px;letter-spacing:-1.31px;transform:scaleX(1.060)">we</span><span style="left:622.5px;transform:scaleX(1.074)">assume</span><span style="left:681.3px;letter-spacing:0.66px;transform:scaleX(1.130)">that</span><span style="left:717.8px;transform:scaleX(1.127)">they</span><span style="left:756.2px;transform:scaleX(1.108)">are</span><span style="left:784.6px;transform:scaleX(1.071)">done</span><span style="left:825.4px;letter-spacing:0.83px;transform:scaleX(1.130)">at</span></div>
<div class="l" style="top:1148.59px;"><span style="left:112.4px;letter-spacing:0.19px;transform:scaleX(1.130)">the</span><span style="left:140.8px;transform:scaleX(1.071)">same</span><span style="left:182.4px;transform:scaleX(1.110)">time,</span><span style="left:225.1px;letter-spacing:0.05px;transform:scaleX(1.130)">its</span><span style="left:247.9px;transform:scaleX(1.104)">operating</span><span style="left:322.6px;transform:scaleX(1.077)">principle</span><span style="left:391.6px;letter-spacing:-0.42px;transform:scaleX(1.060)">is</span><span style="left:407.8px;letter-spacing:0.19px;transform:scaleX(1.130)">the</span><span style="left:436.1px;transform:scaleX(1.090)">same),</span><span style="left:489.3px;transform:scaleX(1.130)">and</span><span style="left:521.5px;letter-spacing:0.83px;transform:scaleX(1.130)">at</span><span style="left:540.8px;letter-spacing:0.06px;transform:scaleX(1.130)">last</span><span style="left:572.1px;letter-spacing:0.19px;transform:scaleX(1.130)">the</span><span style="left:600.5px;transform:scaleX(1.075)">complete</span><span style="left:671.3px;letter-spacing:0.29px;transform:scaleX(1.130)">data</span><span style="left:708.7px;transform:scaleX(1.106)">rearrange</span><span style="left:783.4px;letter-spacing:-0.42px;transform:scaleX(1.060)">is</span><span style="left:799.6px;letter-spacing:0.19px;transform:scaleX(1.130)">the</span><span style="left:828.0px;transform:scaleX(1.075)">B</span></div>
<div class="l" style="top:1167.21px;"><span style="left:112.4px;transform:scaleX(1.081)">channel.</span><span style="left:180.8px;letter-spacing:-0.18px;transform:scaleX(1.060)">Speciﬁc</span><span style="left:242.5px;transform:scaleX(1.095)">implementation,</span><span style="left:368.0px;transform:scaleX(1.087)">as</span><span style="left:388.7px;letter-spacing:-0.13px;transform:scaleX(1.060)">shown</span><span style="left:440.0px;transform:scaleX(1.085)">in</span><span style="left:459.7px;transform:scaleX(1.092)">Fig.</span><span style="left:494.2px;letter-spacing:-0.12px;transform:scaleX(1.060)">4,</span><span style="left:513.0px;transform:scaleX(1.065)">when</span><span style="left:557.2px;transform:scaleX(1.063)">adc<u></u>chs<u></u>aligned</span><span style="left:676.5px;transform:scaleX(1.130)">and</span><span style="left:709.4px;transform:scaleX(1.091)">adc<u></u>frame<u></u>head<u></u><i>x</i></span></div>
<div class="l" style="top:1206.80px;font-size:15.4px;"><span style="left:461.1px;letter-spacing:-0.61px;transform:scaleX(1.060)">2212</span></div>
</div></body></html>
